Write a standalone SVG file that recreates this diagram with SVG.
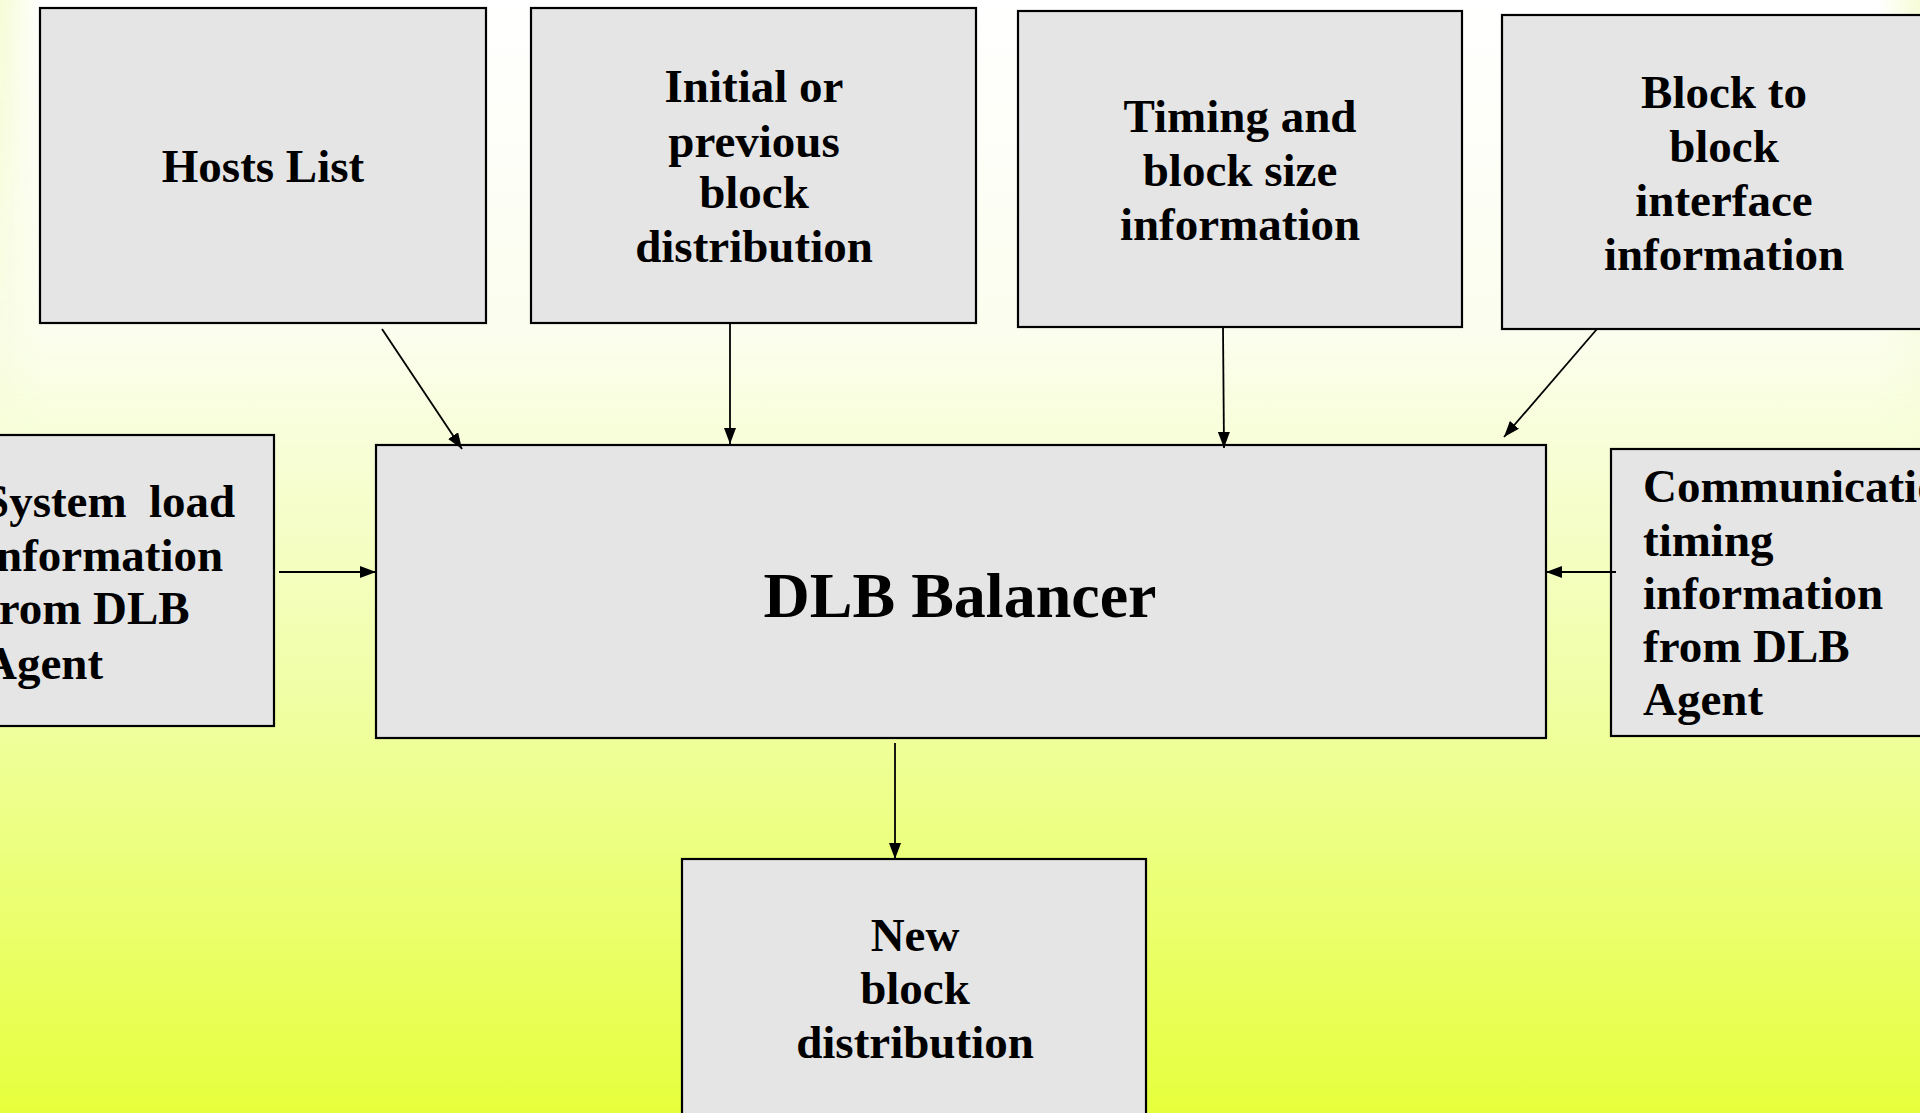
<svg xmlns="http://www.w3.org/2000/svg" width="1920" height="1113" viewBox="0 0 1920 1113">
<defs>
<linearGradient id="bg" x1="0" y1="0" x2="0" y2="1">
<stop offset="0" stop-color="#ffffff"/>
<stop offset="0.3" stop-color="#fbfeee"/>
<stop offset="0.62" stop-color="#f0ffa6"/>
<stop offset="1" stop-color="#e6ff3c"/>
</linearGradient>
<linearGradient id="edge" x1="0" y1="0" x2="1" y2="0">
<stop offset="0" stop-color="#f6fcd6" stop-opacity="1"/>
<stop offset="0.022" stop-color="#f6fcd6" stop-opacity="0"/>
<stop offset="0.978" stop-color="#f6fcd6" stop-opacity="0"/>
<stop offset="1" stop-color="#f6fcd6" stop-opacity="1"/>
</linearGradient>
<linearGradient id="edgefade" x1="0" y1="0" x2="0" y2="1">
<stop offset="0" stop-color="#fff" stop-opacity="1"/>
<stop offset="1" stop-color="#fff" stop-opacity="0"/>
</linearGradient>
<mask id="edgemask"><rect x="0" y="0" width="1920" height="600" fill="url(#edgefade)"/></mask>
<marker id="ah" markerUnits="userSpaceOnUse" markerWidth="18" markerHeight="14" refX="16" refY="6" orient="auto">
<path d="M0,0 L16,6 L0,12 z" fill="#000"/>
</marker>
</defs>
<style>
.box{fill:#e5e5e5;stroke:#000;stroke-width:2.2}
.t{font-family:"Liberation Serif","Times New Roman",serif;font-weight:bold;font-size:47px;fill:#000}
.c{text-anchor:middle}
.conn line{stroke:#000;stroke-width:1.8;marker-end:url(#ah)}
</style>
<rect x="0" y="0" width="1920" height="1113" fill="url(#bg)"/>
<rect x="0" y="0" width="1920" height="600" fill="url(#edge)" mask="url(#edgemask)"/>

<g id="hosts-list">
<rect class="box" x="40" y="8" width="446" height="315"/>
<text class="t c" x="263" y="182">Hosts List</text>
</g>

<g id="initial-distribution">
<rect class="box" x="531" y="8" width="445" height="315"/>
<text class="t c" x="754" y="102">Initial or</text>
<text class="t c" x="754" y="157">previous</text>
<text class="t c" x="754" y="208">block</text>
<text class="t c" x="754" y="262">distribution</text>
</g>

<g id="timing-info">
<rect class="box" x="1018" y="11" width="444" height="316"/>
<text class="t c" x="1240" y="132">Timing and</text>
<text class="t c" x="1240" y="186">block size</text>
<text class="t c" x="1240" y="240">information</text>
</g>

<g id="block-interface">
<rect class="box" x="1502" y="15" width="440" height="314"/>
<text class="t c" x="1724" y="108">Block to</text>
<text class="t c" x="1724" y="162">block</text>
<text class="t c" x="1724" y="216">interface</text>
<text class="t c" x="1724" y="270">information</text>
</g>

<g id="system-load">
<rect class="box" x="-10" y="435" width="284" height="291"/>
<text class="t" x="-17" y="517">System<tspan x="149">load</tspan></text>
<text class="t" x="-17" y="571">information</text>
<text class="t" x="-17" y="624">from DLB</text>
<text class="t" x="-17" y="679">Agent</text>
</g>

<g id="dlb-balancer">
<rect class="box" x="376" y="445" width="1170" height="293"/>
<text class="t c" x="960" y="617" style="font-size:64px">DLB Balancer</text>
</g>

<g id="communication-timing">
<rect class="box" x="1611" y="449" width="330" height="287"/>
<text class="t" x="1643" y="502">Communication</text>
<text class="t" x="1643" y="556">timing</text>
<text class="t" x="1643" y="609">information</text>
<text class="t" x="1643" y="662">from DLB</text>
<text class="t" x="1643" y="715">Agent</text>
</g>

<g id="new-distribution">
<rect class="box" x="682" y="859" width="464" height="270"/>
<text class="t c" x="915" y="951">New</text>
<text class="t c" x="915" y="1004">block</text>
<text class="t c" x="915" y="1058">distribution</text>
</g>

<g id="connectors" class="conn">
<line x1="382" y1="329" x2="462" y2="449"/>
<line x1="730" y1="323" x2="730" y2="444"/>
<line x1="1223" y1="327" x2="1224" y2="448"/>
<line x1="1597" y1="329" x2="1504" y2="437"/>
<line x1="279" y1="572" x2="376" y2="572"/>
<line x1="1616" y1="572" x2="1546" y2="572"/>
<line x1="895" y1="743" x2="895" y2="859"/>
</g>
</svg>
